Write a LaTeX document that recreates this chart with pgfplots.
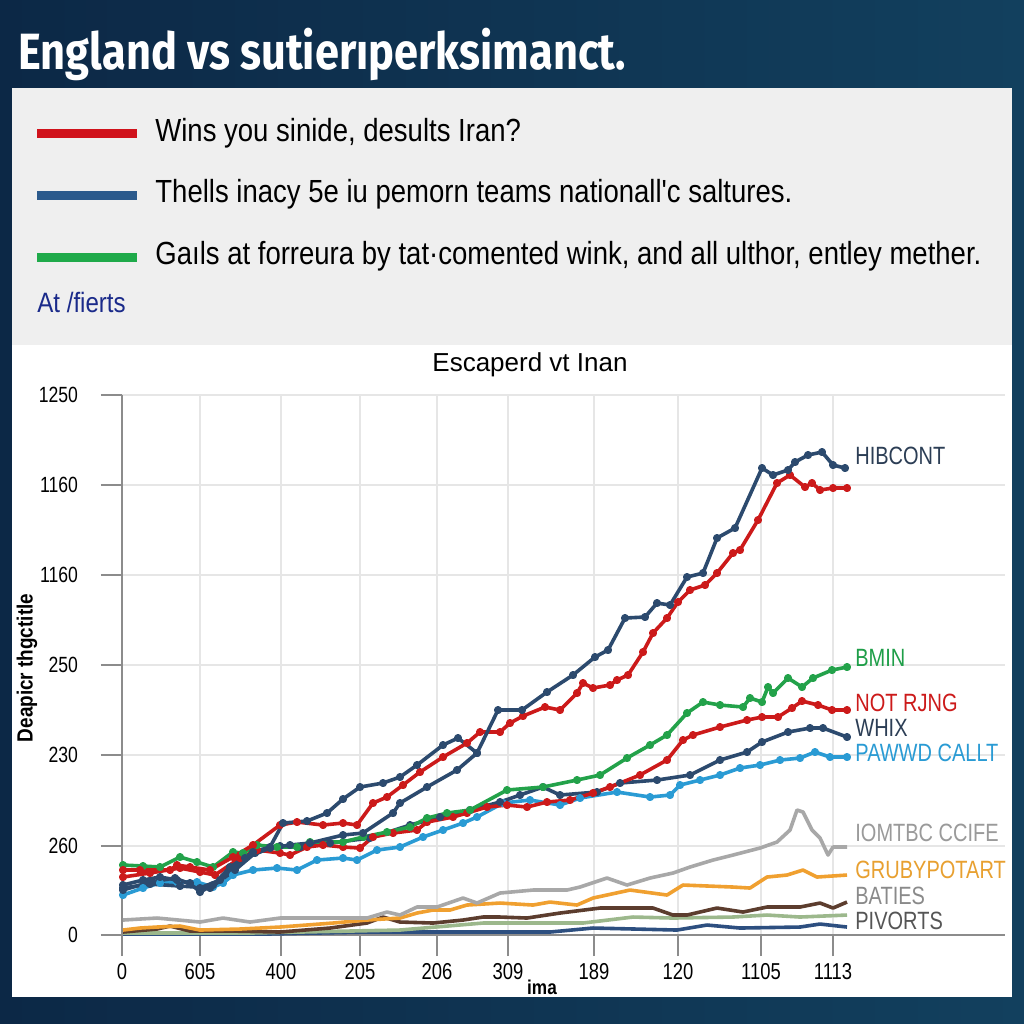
\documentclass[border=0pt]{standalone}
\usepackage{pgfplots}
\pgfplotsset{compat=1.18}
\usepackage{fontspec}
\setmainfont{Liberation Sans}
\newfontfamily\titlef[FakeStretch=0.85]{Fira Sans}
\newfontfamily\condf[FakeStretch=0.86]{Liberation Sans}
\newfontfamily\labf[FakeStretch=0.80]{Liberation Sans}
\definecolor{bgL}{HTML}{0C2846}
\definecolor{bgR}{HTML}{12405E}
\definecolor{panel}{HTML}{EFEFEF}
\definecolor{gridc}{HTML}{E6E6E6}
\definecolor{axisgray}{HTML}{8C8C8C}
\definecolor{cnavy}{HTML}{2C4A6E}
\definecolor{cred}{HTML}{CC1A1A}
\definecolor{cgreen}{HTML}{23A24A}
\definecolor{clblue}{HTML}{2A9BD4}
\definecolor{cgray}{HTML}{A8A8A8}
\definecolor{corange}{HTML}{F0A030}
\definecolor{cbrown}{HTML}{5C3D2E}
\definecolor{csage}{HTML}{9CB88C}
\definecolor{cdblue}{HTML}{2D4F80}
\definecolor{legred}{HTML}{D0121B}
\definecolor{legblue}{HTML}{2B5A8C}
\definecolor{leggreen}{HTML}{1FAA4A}
\definecolor{atblue}{HTML}{1A2A8A}
\definecolor{lnavy}{HTML}{2C3E55}
\definecolor{lgreen}{HTML}{1E9E48}
\definecolor{lred}{HTML}{CC1A1A}
\definecolor{lblue}{HTML}{2A9BD4}
\definecolor{lgray}{HTML}{9A9A9A}
\definecolor{lorange}{HTML}{E8A030}
\definecolor{lbat}{HTML}{8A8A8A}
\definecolor{lpiv}{HTML}{555555}
\begin{document}
\begin{tikzpicture}
\begin{scope}[x=0.5bp,y=-0.5bp]
\useasboundingbox (0,0) rectangle (1024,1024);
\fill[left color=bgL, right color=bgR] (0,0) rectangle (1024,1024);
\fill[panel] (12,88) rectangle (1012,345);
\fill[white] (12,345) rectangle (1012,997);
\node[anchor=base west, inner sep=0, text=white, font=\titlef\bfseries\fontsize{25.5bp}{30bp}\selectfont] at (18,69) {England vs sutierıperksimanct.};
\fill[legred] (37,129) rectangle (137,138);
\fill[legblue] (37,191) rectangle (137,200);
\fill[leggreen] (37,253) rectangle (137,262);
\node[anchor=west, inner sep=0, font=\condf\fontsize{16bp}{19bp}\selectfont] at (155,133) {Wins you sinide, desults Iran?};
\node[anchor=west, inner sep=0, font=\condf\fontsize{16bp}{19bp}\selectfont] at (155,194) {Thells inacy 5e iu pemorn teams nationall'c saltures.};
\node[anchor=west, inner sep=0, font=\condf\fontsize{16bp}{19bp}\selectfont] at (155,256) {Gaıls at forreura by tat·comented wink, and all ulthor, entley mether.};
\node[anchor=west, inner sep=0, text=atblue, font=\condf\fontsize{14bp}{17bp}\selectfont] at (37,302) {At /fierts};
\node[inner sep=0, font=\fontsize{13bp}{15bp}\selectfont] at (530,365) {Escaperd vt Inan};
\node[inner sep=0, rotate=90, font=\condf\bfseries\fontsize{11bp}{13bp}\selectfont] at (27,668) {Deapicr thgctitle};
\node[inner sep=0, font=\condf\bfseries\fontsize{10bp}{12bp}\selectfont] at (542,987) {ima};
\end{scope}
\begin{axis}[
  at={(61bp,-467.5bp)}, anchor=south west,
  scale only axis, width=441.5bp, height=270bp,
  xmin=122, xmax=1005, ymin=0, ymax=540,
  axis x line*=bottom, axis y line*=left,
  axis line style={draw=axisgray, line width=1bp},
  xtick={122,200,281,360,437,508,594,678,761,833},
  xticklabels={0,605,400,205,206,309,189,120,1105,1113},
  ytick={0,89,180,270,360,450,540},
  yticklabels={0,260,230,250,1160,1160,1250},
  grid=major, major grid style={draw=gridc, line width=1bp},
  tick align=outside, major tick length=10.5bp,
  tick style={draw=axisgray, line width=1bp},
  xticklabel style={font=\labf\fontsize{11.5bp}{13bp}\selectfont, text=black},
  yticklabel style={font=\labf\fontsize{11bp}{13bp}\selectfont, text=black, xshift=-8bp},
  clip=false,
  every axis plot/.append style={line width=1.8bp, line join=round},
]
\addplot[cdblue, no marks] coordinates {(123,1)(267,1)(367,3)(500,3)(550,3)(593,7)(677,5)(707,10)(740,7)(800,8)(820,11)(847,8)};
\addplot[csage, no marks] coordinates {(123,2)(250,2)(400,5)(483,12)(500,12)(583,12)(633,18)(673,17)(733,18)(767,20)(800,18)(847,20)};
\addplot[cbrown, no marks] coordinates {(123,3)(157,6)(170,9)(190,4)(230,4)(280,3)(330,7)(367,12)(383,18)(400,13)(433,12)(463,15)(483,18)(500,18)(527,17)(560,22)(600,27)(653,27)(673,20)(687,20)(717,27)(743,23)(767,28)(800,28)(820,32)(833,27)(847,33)};
\addplot[corange, no marks] coordinates {(123,5)(140,7)(157,8)(180,9)(200,5)(240,6)(280,8)(333,12)(367,15)(400,17)(417,22)(433,25)(450,25)(467,30)(500,32)(533,30)(550,33)(577,30)(593,37)(630,45)(667,40)(683,50)(733,48)(750,47)(767,58)(787,60)(803,65)(817,58)(847,60)};
\addplot[cgray, no marks] coordinates {(123,15)(157,17)(200,13)(223,17)(250,13)(280,17)(327,17)(367,17)(387,23)(400,20)(417,28)(437,28)(463,37)(477,32)(500,42)(533,45)(567,45)(580,48)(607,57)(627,50)(650,57)(673,62)(690,68)(713,75)(733,80)(760,87)(777,93)(790,105)(797,125)(803,123)(812,105)(820,97)(828,80)(833,88)(847,88)};
\addplot[clblue, mark=*, mark size=1.1bp] coordinates {(123,40)(143,47)(160,52)(177,53)(197,53)(213,48)(223,52)(233,60)(253,65)(277,67)(297,65)(317,75)(343,77)(357,75)(377,85)(400,88)(423,98)(443,105)(463,112)(477,118)(503,132)(530,135)(560,130)(580,137)(617,143)(650,138)(670,140)(680,150)(700,155)(720,160)(740,167)(760,170)(780,175)(800,177)(815,183)(830,178)(847,178)};
\addplot[cnavy, mark=*, mark size=1.1bp] coordinates {(123,47)(150,51)(180,49)(210,47)(235,65)(255,82)(280,89)(300,88)(330,92)(370,97)(410,110)(440,118)(470,125)(500,133)(520,140)(543,148)(560,140)(597,143)(620,152)(657,155)(690,160)(720,175)(747,183)(762,193)(788,203)(810,207)(823,207)(847,198)};
\addplot[cred, mark=*, mark size=1.1bp] coordinates {(123,58)(150,62)(180,67)(200,63)(215,60)(240,77)(257,85)(280,82)(290,80)(307,88)(323,90)(343,88)(360,87)(373,98)(393,102)(417,105)(427,113)(453,118)(467,122)(487,128)(507,130)(527,128)(547,133)(570,135)(593,142)(610,148)(640,160)(667,175)(683,195)(693,200)(720,208)(747,215)(762,218)(778,218)(792,227)(802,234)(818,230)(832,225)(847,225)};
\addplot[cgreen, mark=*, mark size=1.1bp] coordinates {(123,70)(143,69)(160,68)(180,78)(197,73)(213,68)(233,83)(243,82)(257,90)(277,88)(297,88)(310,93)(343,93)(363,98)(387,103)(410,108)(427,117)(447,122)(470,125)(507,145)(543,148)(577,155)(600,160)(627,177)(650,190)(667,200)(687,222)(703,233)(720,230)(743,228)(750,237)(762,233)(768,248)(773,242)(788,257)(802,248)(813,257)(832,265)(847,268)};
\addplot[cnavy, mark=*, mark size=1.1bp] coordinates {(123,45)(150,53)(175,57)(200,47)(220,55)(245,77)(270,87)(290,90)(310,92)(343,100)(363,102)(393,122)(400,132)(427,148)(457,165)(477,182)};
\addplot[cred, mark=*, mark size=1.1bp] coordinates {(123,65)(140,65)(170,65)(177,70)(190,68)(210,65)(233,78)(253,90)(280,110)(297,113)(323,110)(343,112)(357,110)(373,132)(387,138)(403,150)(420,163)(443,178)(467,192)(480,203)(500,203)(510,212)(523,219)(545,228)(560,225)(577,242)(583,252)(593,247)(610,250)(617,255)(628,260)(643,283)(653,302)(667,317)(678,333)(690,345)(705,350)(717,362)(733,382)(740,385)(758,415)(777,452)(790,460)(805,448)(812,452)(820,445)(833,447)(847,447)};
\addplot[cnavy, mark=*, mark size=1.1bp] coordinates {(123,50)(143,55)(160,58)(177,55)(190,52)(200,43)(213,50)(230,68)(253,83)(270,88)(283,112)(307,114)(327,122)(343,136)(360,148)(383,152)(400,158)(417,170)(443,190)(458,197)(477,182)(498,225)(522,225)(547,243)(573,260)(595,278)(608,285)(625,317)(645,318)(657,332)(670,330)(687,358)(703,362)(717,397)(735,407)(762,467)(773,460)(788,465)(795,473)(808,480)(822,483)(833,470)(845,467)};
\end{axis}
\begin{scope}[x=0.5bp,y=-0.5bp]
\tikzset{rl/.style={anchor=west, inner sep=0, font=\labf\fontsize{12.5bp}{15bp}\selectfont}}
\node[rl, text=lnavy] at (855,456) {HIBCONT};
\node[rl, text=lgreen] at (855,658) {BMIN};
\node[rl, text=lred] at (855,703) {NOT RJNG};
\node[rl, text=lnavy] at (855,728) {WHIX};
\node[rl, text=lblue] at (855,753) {PAWWD CALLT};
\node[rl, text=lgray] at (855,833) {IOMTBC CCIFE};
\node[rl, text=lorange] at (855,870) {GRUBYPOTART};
\node[rl, text=lbat] at (855,896) {BATIES};
\node[rl, text=lpiv] at (855,921) {PIVORTS};
\end{scope}
\end{tikzpicture}
\end{document}
